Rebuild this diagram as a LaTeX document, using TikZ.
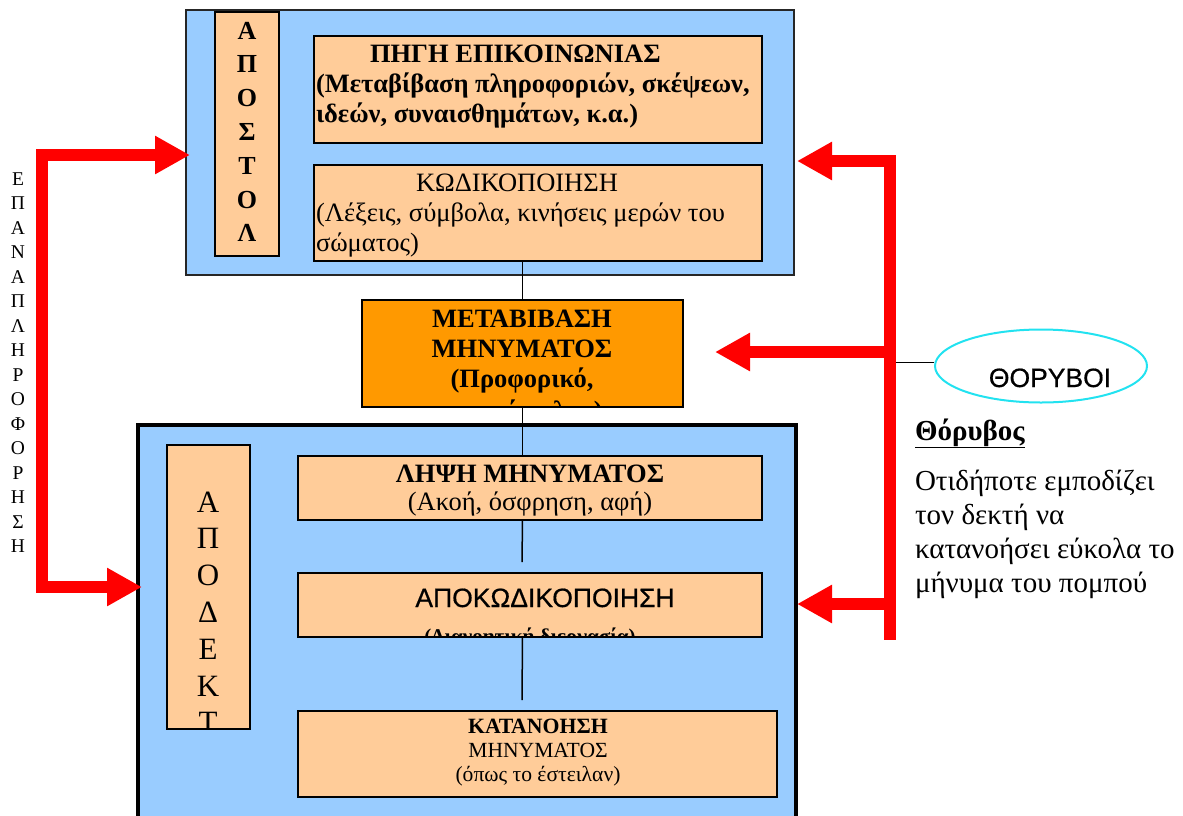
\documentclass[tikz,border=0pt]{standalone}
\usepackage{fontspec}
\setmainfont{Liberation Serif}
\newfontfamily\arialf[FakeBold=0.6]{Liberation Sans}
\usetikzlibrary{arrows.meta,shapes.geometric}
\definecolor{skyb}{HTML}{99CCFF}
\definecolor{peach}{HTML}{FFCC99}
\definecolor{orng}{HTML}{FF9900}
\definecolor{redc}{HTML}{FF0000}
\definecolor{cyanc}{HTML}{22E2F0}
\newcommand\fsz[1]{\fontsize{#1}{#1}\selectfont}
\begin{document}
\begin{tikzpicture}[x=1pt,y=-1pt,
  box/.style={draw=black, line width=2pt, inner sep=0pt, outer sep=0pt, anchor=north west},
  peachbox/.style={box, fill=peach},
  skybox/.style={box, fill=skyb},
  txt/.style={inner sep=0pt, outer sep=0pt, anchor=base},
  txtl/.style={txt, anchor=base west},
  redline/.style={draw=redc, line width=12pt, line join=miter},
  redarrow/.style={redline, -{Triangle[length=35pt,width=36pt]}},
  redarrows/.style={redline, {Triangle[length=35pt,width=36pt]}-{Triangle[length=35pt,width=36pt]}},
  conn/.style={draw=black, line width=1.5pt}]
\useasboundingbox (0,0) rectangle (1183,815);
\clip (0,0) rectangle (1183,815);

% sender block
\node[skybox, draw=black!85, minimum width=608pt, minimum height=265pt] (sender) at (186,10) {};
\node[peachbox, minimum width=64pt, minimum height=244pt] (sendv) at (215,12) {};
\node[peachbox, minimum width=448pt, minimum height=107pt] (source) at (314,36) {};
\node[peachbox, minimum width=448pt, minimum height=96pt] (kod) at (314,165) {};
\foreach \l [count=\i from 0] in {Α,Π,Ο,Σ,Τ,Ο,Λ}
  \node[txt, font=\bfseries\fsz{26}] (s\i) at (247,39+33.8*\i) {\l};
\node[txtl, font=\bfseries\fsz{26.5}] (src1) at (370,62) {ΠΗΓΗ ΕΠΙΚΟΙΝΩΝΙΑΣ};
\node[txtl, font=\bfseries\fsz{26.5}] (src2) at (316,92) {(Μεταβίβαση πληροφοριών, σκέψεων,};
\node[txtl, font=\bfseries\fsz{26.5}] (src3) at (316,122) {ιδεών, συναισθημάτων, κ.α.)};
\node[txtl, font=\fsz{26.5}] (kod1) at (416,191) {ΚΩΔΙΚΟΠΟΙΗΣΗ};
\node[txtl, font=\fsz{26.5}] (kod2) at (316,221) {(Λέξεις, σύμβολα, κινήσεις μερών του};
\node[txtl, font=\fsz{26.5}] (kod3) at (316,251) {σώματος)};

% message transfer
\node[box, fill=orng, minimum width=321pt, minimum height=107pt] (meta) at (362,300) {};
\node[txt, font=\bfseries\fsz{26.5}] (m1) at (522,327) {ΜΕΤΑΒΙΒΑΣΗ};
\node[txt, font=\bfseries\fsz{26.5}] (m2) at (522,357) {ΜΗΝΥΜΑΤΟΣ};
\node[txt, font=\bfseries\fsz{26.5}] (m3) at (522,387) {(Προφορικό,};
\begin{scope}
  \clip ([yshift=1pt]meta.south west) rectangle (meta.north east);
  \node[txt, font=\bfseries\fsz{26.5}] (m4) at (520,419) {γραπτό, κ.λ.π.)};
\end{scope}

% receiver block
\node[skybox, line width=4pt, minimum width=658pt, minimum height=420pt] (receiver) at (138,425) {};
\node[peachbox, minimum width=83pt, minimum height=284pt] (recv) at (167,445) {};
\begin{scope}
  \clip ([yshift=1pt]recv.south west) rectangle (recv.north east);
  \foreach \l [count=\i from 0] in {Α,Π,Ο,Δ,Ε,Κ,Τ}
    \node[txt, font=\fsz{31}] (r\i) at (208,512+36.8*\i) {\l};
\end{scope}
\node[peachbox, minimum width=464pt, minimum height=64pt] (lipsi) at (298,456) {};
\node[peachbox, minimum width=464pt, minimum height=64pt] (apokod) at (298,573) {};
\node[peachbox, minimum width=479pt, minimum height=86pt] (katan) at (298,711) {};
\node[txt, font=\bfseries\fsz{26.5}] (l1) at (530,482) {ΛΗΨΗ ΜΗΝΥΜΑΤΟΣ};
\node[txt, font=\fsz{26.5}] (l2) at (530,510) {(Ακοή, όσφρηση, αφή)};
\node[txt, font=\arialf\fsz{26.5}] (a1) at (545,607) {ΑΠΟΚΩΔΙΚΟΠΟΙΗΣΗ};
\begin{scope}
  \clip ([yshift=1pt]apokod.south west) rectangle (apokod.north east);
  \node[txt, font=\bfseries\fsz{21}] (a2) at (530,643) {(Διανοητική διεργασία)};
\end{scope}
\node[txt, font=\bfseries\fsz{21.8}] (k1) at (538,733) {ΚΑΤΑΝΟΗΣΗ};
\node[txt, font=\fsz{21.6}] (k2) at (538,757) {ΜΗΝΥΜΑΤΟΣ};
\node[txt, font=\fsz{21.6}] (k3) at (538,781) {(όπως το έστειλαν)};

% connectors
\coordinate (c1) at (522,562);
\coordinate (c2) at (522,700);
\draw[conn] (meta.north |- kod.south) -- (meta.north);
\draw[conn] (meta.south) -- (meta.south |- lipsi.north);
\draw[conn] (meta.south |- lipsi.south) -- (c1);
\draw[conn] (meta.south |- apokod.south) -- (c2);

% feedback text
\foreach \l [count=\i from 0] in {Ε,Π,Α,Ν,Α,Π,Λ,Η,Ρ,Ο,Φ,Ο,Ρ,Η,Σ,Η}
  \node[txt, font=\fsz{19.5}] (f\i) at (18,185+24.53*\i) {\l};

% feedback arrows
\coordinate (fbT) at (42,155);
\coordinate (fbB) at (42,587);
\coordinate (fbTtip) at (190,155);
\coordinate (fbBtip) at (142,587);
\draw[redarrows] (fbTtip) -- (fbT) -- (fbB) -- (fbBtip);

% noise
\node[draw=cyanc, line width=2pt, ellipse, inner sep=0pt, minimum width=212pt, minimum height=73pt] (noise) at (1041,366) {};
\node[txt, font=\arialf\fsz{26.5}] (noiset) at (1050,387) {ΘΟΡΥΒΟΙ};
\coordinate (nN) at (887,362);
\draw[line width=1pt] (nN) -- ([yshift=4pt]noise.west);

\coordinate (nT) at (890,161);
\coordinate (nB) at (890,604);
\coordinate (nM) at (890,352);
\coordinate (nEnd) at (890,640);
\coordinate (nTtip) at (797,161);
\coordinate (nBtip) at (797,604);
\coordinate (nMtip) at (715,352);
\draw[redline] (nB) -- (nEnd);
\draw[redarrows] (nTtip) -- (nT) -- (nB) -- (nBtip);
\draw[redarrow] (nM) -- (nMtip);

% noise definition
\node[txtl, font=\bfseries\fsz{29}] (d0) at (915,440) {\underline{Θόρυβος}};
\node[txtl, font=\fsz{29}] (d1) at (915,490) {Οτιδήποτε εμποδίζει};
\node[txtl, font=\fsz{29}] (d2) at (915,524) {τον δεκτή να};
\node[txtl, font=\fsz{29}] (d3) at (915,558) {κατανοήσει εύκολα το};
\node[txtl, font=\fsz{29}] (d4) at (915,592) {μήνυμα του πομπού};
\end{tikzpicture}
\end{document}
